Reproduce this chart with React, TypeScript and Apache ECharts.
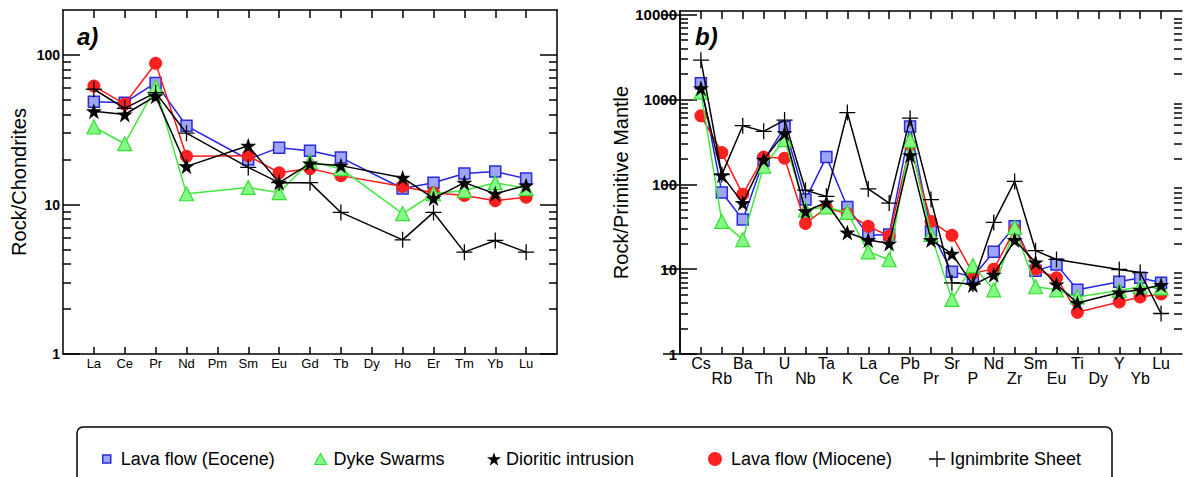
import React, { useEffect, useRef } from "react";
import * as echarts from "echarts";

// ---------- data ----------
const REE = ["La", "Ce", "Pr", "Nd", "Pm", "Sm", "Eu", "Gd", "Tb", "Dy", "Ho", "Er", "Tm", "Yb", "Lu"];
const SPI = ["Cs", "Rb", "Ba", "Th", "U", "Nb", "Ta", "K", "La", "Ce", "Pb", "Pr", "Sr", "P", "Nd", "Zr", "Sm", "Eu", "Ti", "Dy", "Y", "Yb", "Lu"];

const A_EOCENE = [48.6, 48, 65, 33.6, null, 20, 24, 22.9, 20.6, null, 12.8, 14, 16.1, 16.6, 14.9];
const A_DYKE = [33, 25.5, 61, 11.8, null, 13, 12, 19.4, 17.4, null, 8.7, 11.8, 12.4, 14, 12.8];
const A_DIORITE = [42, 40, 53, 18, null, 24.7, 14, 18.8, 18.2, null, 15.1, 11, 14, 11.8, 13.4];
const A_MIOCENE = [62, 47, 88, 21, null, 21.2, 16.3, 17.4, 15.6, null, 13.2, 12, 11.5, 10.6, 11.2];
const A_IGNIMBRITE = [59, 44, 56, 30, null, 17.7, 14, 14, 8.85, null, 5.8, 8.85, 4.8, 5.75, 4.8];

const B_EOCENE = [1550, 80, 38.5, 190, 472, 66, 210, 54, 25, 25.6, 480, 28, 9.3, 8.1, 16, 32, 9.6, 11.3, 5.7, null, 7.1, 7.9, 6.9];
const B_DYKE = [1220, 36.5, 22.3, 163, 335, 50, 54, 46.6, 16, 12.9, 330, 25.6, 4.4, 11, 5.7, 31, 6.2, 5.7, 4.7, null, 5.6, 6.2, 6.0];
const B_DIORITE = [1350, 128, 60, 195, 400, 48, 61, 27, 22, 20, 220, 22, 15.2, 6.5, 8.6, 22, 12, 6.6, 4.0, null, 5.3, 5.7, 6.5];
const B_MIOCENE = [640, 236, 76, 209, 203, 34.5, 53, 45, 32, 24.5, 290, 36.5, 25, 9, 10, 29, 10, 7.9, 3.1, null, 4.1, 4.7, 5.1];
const B_IGNIMBRITE = [2900, 130, 490, 420, 570, 85, 72, 700, 88, 60, 600, 66, 6.9, 6.7, 35.5, 108, 16.5, 13, null, null, 9.9, 9.1, 3.0];

const A_MAJOR = [1, 10, 100];
const A_MINOR = [2, 3, 4, 5, 6, 7, 8, 9, 20, 30, 40, 50, 60, 70, 80, 90];
const B_MAJOR = [1, 10, 100, 1000, 10000];
const B_MINOR = [2, 3, 4, 5, 6, 7, 8, 9, 20, 30, 40, 50, 60, 70, 80, 90, 200, 300, 400, 500, 600, 700, 800, 900, 2000, 3000, 4000, 5000, 6000, 7000, 8000, 9000];

// ---------- styles ----------
const STAR = "path://M12,0 L14.9,8.6 L24,8.6 L16.6,14 L19.4,22.8 L12,17.4 L4.6,22.8 L7.4,14 L0,8.6 L9.1,8.6 Z";
const PLUS = "path://M9.2,0h1.6v20h-1.6zM0,9.2h20v1.6h-20z";
const FONT = "Liberation Sans, Arial, Helvetica, sans-serif";

const STYLE: Record<string, any> = {
  "Lava flow (Eocene)": { symbol: "rect", size: 11, line: "#2424e6", fill: "#9ea6f4", border: "#2a2ae0", bw: 1.5, z: 2 },
  "Lava flow (Miocene)": { symbol: "circle", size: 13, line: "#ff1a1a", fill: "#ff2020", border: "#ff2020", bw: 0, z: 3 },
  "Dyke Swarms": { symbol: "triangle", size: 14, line: "#3fe83f", fill: "#84fb84", border: "#35dd35", bw: 1.2, z: 4 },
  "Dioritic intrusion": { symbol: STAR, size: 16, line: "#000", fill: "#000", border: "#000", bw: 0, z: 5 },
  "Ignimbrite Sheet": { symbol: PLUS, size: 16, line: "#000", fill: "#000", border: "#000", bw: 0, z: 6 },
};

function pts(vals: (number | null)[]) {
  const out: number[][] = [];
  vals.forEach((v, i) => {
    if (v != null) out.push([i + 1, v]);
  });
  return out;
}

function mkSeries(name: string, vals: (number | null)[], xi: number, yi: number) {
  const s = STYLE[name];
  return {
    name,
    type: "line",
    xAxisIndex: xi,
    yAxisIndex: yi,
    data: pts(vals),
    symbol: s.symbol,
    symbolSize: s.size,
    z: s.z,
    lineStyle: { color: s.line, width: 1.5 },
    itemStyle: { color: s.fill, borderColor: s.border, borderWidth: s.bw },
    emphasis: { disabled: true },
  };
}

const axisLineStyle = { color: "#000", width: 1.5 };

function yAxes(grid: number, min: number, max: number, major: number[], minor: number[], labelSize: number, name: string, nameGap: number) {
  return [
    {
      type: "log", gridIndex: grid, min, max, position: "left",
      name, nameLocation: "middle", nameGap,
      nameTextStyle: { fontSize: 20, color: "#000", fontFamily: FONT },
      axisLine: { show: true, lineStyle: axisLineStyle },
      axisTick: { show: true, inside: true, length: 17, customValues: major, lineStyle: axisLineStyle },
      axisLabel: { show: true, customValues: major, formatter: (v: number) => String(v), fontSize: labelSize, fontWeight: "bold", color: "#000", margin: 3, fontFamily: FONT },
      splitLine: { show: false },
    },
    {
      type: "log", gridIndex: grid, min, max, position: "left",
      axisLine: { show: false },
      axisTick: { show: true, inside: true, length: 8, customValues: minor, lineStyle: axisLineStyle },
      axisLabel: { show: false },
      splitLine: { show: false },
    },
    {
      type: "log", gridIndex: grid, min, max, position: "right",
      axisLine: { show: true, lineStyle: axisLineStyle },
      axisTick: { show: true, inside: true, length: 17, customValues: major, lineStyle: axisLineStyle },
      axisLabel: { show: false },
      splitLine: { show: false },
    },
    {
      type: "log", gridIndex: grid, min, max, position: "right",
      axisLine: { show: false },
      axisTick: { show: true, inside: true, length: 8, customValues: minor, lineStyle: axisLineStyle },
      axisLabel: { show: false },
      splitLine: { show: false },
    },
  ];
}

function range(a: number, b: number, step = 1) {
  const r: number[] = [];
  for (let i = a; i <= b; i += step) r.push(i);
  return r;
}

const legendSpec = [
  { name: "Lava flow (Eocene)", left: 97, icon: "rect", w: 8, h: 8, pad: 5 },
  { name: "Dyke Swarms", left: 309, icon: "triangle", w: 12, h: 11, pad: 2 },
  { name: "Dioritic intrusion", left: 482, icon: STAR, w: 14, h: 14, pad: 0 },
  { name: "Lava flow (Miocene)", left: 703, icon: "circle", w: 14, h: 14, pad: 4 },
  { name: "Ignimbrite Sheet", left: 924, icon: PLUS, w: 16, h: 16, pad: 0 },
];

export default function App() {
  const ref = useRef<HTMLDivElement>(null);
  useEffect(() => {
    if (!ref.current) return;
    const chart = echarts.init(ref.current, null, { renderer: "svg" });
    const option: any = {
      animation: false,
      textStyle: { fontFamily: FONT },
      grid: [
        { left: 63, top: 10, width: 494, height: 344 },
        { left: 680, top: 11, width: 502, height: 343 },
      ],
      xAxis: [
        {
          type: "value", gridIndex: 0, min: 0, max: 16, position: "bottom",
          axisLine: { show: true, onZero: false, lineStyle: axisLineStyle },
          axisTick: { show: true, inside: true, length: 7, customValues: range(1, 15), lineStyle: axisLineStyle },
          axisLabel: { show: true, customValues: range(1, 15), formatter: (v: number) => REE[Math.round(v) - 1] || "", fontSize: 13, color: "#000", margin: 3 },
          splitLine: { show: false },
        },
        {
          type: "value", gridIndex: 0, min: 0, max: 16, position: "top",
          axisLine: { show: true, onZero: false, lineStyle: axisLineStyle },
          axisTick: { show: true, inside: true, length: 8, customValues: range(1, 15), lineStyle: axisLineStyle },
          axisLabel: { show: false },
          splitLine: { show: false },
        },
        {
          type: "value", gridIndex: 1, min: 0, max: 24, position: "bottom",
          axisLine: { show: true, onZero: false, lineStyle: axisLineStyle },
          axisTick: { show: true, inside: true, length: 7, customValues: range(1, 23), lineStyle: axisLineStyle },
          axisLabel: { show: true, customValues: range(1, 23, 2), formatter: (v: number) => SPI[Math.round(v) - 1] || "", fontSize: 16, color: "#000", margin: 1 },
          splitLine: { show: false },
        },
        {
          type: "value", gridIndex: 1, min: 0, max: 24, position: "bottom",
          axisLine: { show: false, onZero: false },
          axisTick: { show: false },
          axisLabel: { show: true, customValues: range(2, 22, 2), formatter: (v: number) => SPI[Math.round(v) - 1] || "", fontSize: 16, color: "#000", margin: 16 },
          splitLine: { show: false },
        },
        {
          type: "value", gridIndex: 1, min: 0, max: 24, position: "top",
          axisLine: { show: true, onZero: false, lineStyle: axisLineStyle },
          axisTick: { show: true, inside: true, length: 8, customValues: range(1, 23), lineStyle: axisLineStyle },
          axisLabel: { show: false },
          splitLine: { show: false },
        },
      ],
      yAxis: [
        ...yAxes(0, 1, 200, A_MAJOR, A_MINOR, 14, "Rock/Chondrites", 34),
        ...yAxes(1, 1, 11000, B_MAJOR, B_MINOR, 15, "Rock/Primitive Mantle", 45),
      ],
      legend: legendSpec.map((l) => {
        const s = STYLE[l.name];
        return {
          data: [l.name],
          left: l.left,
          top: 445,
          orient: "horizontal",
          selectedMode: false,
          icon: l.icon,
          itemWidth: l.w,
          itemHeight: l.h,
          itemStyle: { color: s.fill, borderColor: s.border, borderWidth: s.bw },
          textStyle: { fontSize: 18, color: "#000", fontFamily: FONT, padding: [0, 0, 0, l.pad] },
        };
      }),
      graphic: [
        { type: "text", x: 77, y: 36, style: { text: "a)", font: "italic bold 24px Liberation Sans, Arial, sans-serif", fill: "#000", verticalAlign: "middle" } },
        { type: "text", x: 695, y: 36, style: { text: "b)", font: "italic bold 24px Liberation Sans, Arial, sans-serif", fill: "#000", verticalAlign: "middle" } },
        { type: "rect", shape: { x: 77, y: 427, width: 1035, height: 70, r: 6 }, style: { fill: "none", stroke: "#000", lineWidth: 1.5 } },
      ],
      series: [
        mkSeries("Lava flow (Eocene)", A_EOCENE, 0, 0),
        mkSeries("Lava flow (Miocene)", A_MIOCENE, 0, 0),
        mkSeries("Dyke Swarms", A_DYKE, 0, 0),
        mkSeries("Dioritic intrusion", A_DIORITE, 0, 0),
        mkSeries("Ignimbrite Sheet", A_IGNIMBRITE, 0, 0),
        mkSeries("Lava flow (Eocene)", B_EOCENE, 2, 4),
        mkSeries("Lava flow (Miocene)", B_MIOCENE, 2, 4),
        mkSeries("Dyke Swarms", B_DYKE, 2, 4),
        mkSeries("Dioritic intrusion", B_DIORITE, 2, 4),
        mkSeries("Ignimbrite Sheet", B_IGNIMBRITE, 2, 4),
      ],
    };
    chart.setOption(option);
    return () => chart.dispose();
  }, []);
  return <div ref={ref} style={{ position: "absolute", left: 0, top: 0, width: 1184, height: 477, background: "#fff" }} />;
}
